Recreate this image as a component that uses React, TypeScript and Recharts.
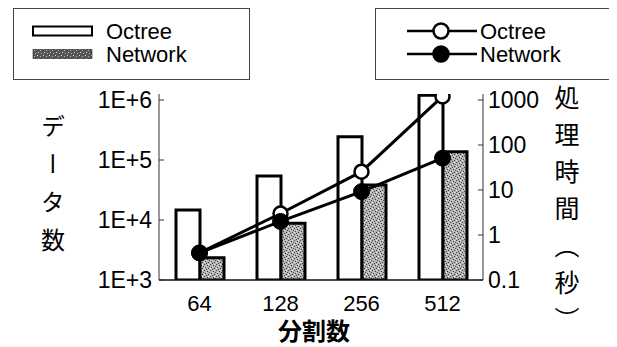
import React from 'react';
import { ComposedChart, Bar, Line, XAxis, YAxis, Legend } from 'recharts';

const categories = ['64', '128', '256', '512'];
const octreeCount = [14700, 54000, 245000, 1200000];
const networkCount = [2350, 8800, 38300, 137000];
const octreeTime = [0.4, 3.0, 25.5, 1200];
const networkTime = [0.4, 2.0, 9.2, 51];
const leftTicks = [1000, 10000, 100000, 1000000];
const leftTickLabels = ['1E+3', '1E+4', '1E+5', '1E+6'];
const rightTicks = [0.1, 1, 10, 100, 1000];
const rightTickLabels = ['0.1', '1', '10', '100', '1000'];
const barKeys = ['octreeCount', 'networkCount'];
const lineKeys = ['octreeTime', 'networkTime'];

const data = categories.map((c, i) => ({
  cat: c,
  octreeCount: octreeCount[i],
  networkCount: networkCount[i],
  octreeTime: octreeTime[i],
  networkTime: networkTime[i],
}));

const LATIN = "'Liberation Sans', Arial, Helvetica, sans-serif";
const CJK = "'Noto Sans CJK JP', sans-serif";

const Patterns = () => (
  <svg width={0} height={0} style={{ position: 'absolute' }}>
    <defs>
      <pattern id="stipple" width="6" height="6" patternUnits="userSpaceOnUse">
        <rect width="6" height="6" fill="#b4b4b4" />
        <rect x="0" y="0" width="1" height="1" fill="#444" />
        <rect x="3" y="1" width="1" height="1" fill="#333" />
        <rect x="1" y="3" width="1" height="1" fill="#444" />
        <rect x="4" y="4" width="1" height="1" fill="#333" />
        <rect x="5" y="2" width="1" height="1" fill="#555" />
        <rect x="2" y="5" width="1" height="1" fill="#444" />
        <rect x="4" y="0" width="1" height="1" fill="#eee" />
        <rect x="0" y="4" width="1" height="1" fill="#eee" />
        <rect x="2" y="2" width="1" height="1" fill="#ddd" />
      </pattern>
      <pattern id="stippleDark" width="6" height="6" patternUnits="userSpaceOnUse">
        <rect width="6" height="6" fill="#555" />
        <rect x="1" y="1" width="1" height="1" fill="#ddd" />
        <rect x="4" y="2" width="1" height="1" fill="#bbb" />
        <rect x="2" y="4" width="1" height="1" fill="#ddd" />
        <rect x="5" y="5" width="1" height="1" fill="#bbb" />
      </pattern>
    </defs>
  </svg>
);

const renderLegend = (props: any) => {
  const payload: any[] = props.payload || [];
  const bars = barKeys
    .map((k) => payload.find((p) => p.dataKey === k))
    .filter(Boolean) as any[];
  const lines = lineKeys
    .map((k) => payload.find((p) => p.dataKey === k))
    .filter(Boolean) as any[];
  const rows = [31, 54];
  return (
    <svg width={617} height={90}>
      <rect x={13.5} y={8.5} width={236} height={71} fill="none" stroke="#444" strokeWidth={1} />
      {bars.map((b, i) => (
        <g key={b.dataKey}>
          <rect
            x={33}
            y={rows[i] - 4.5}
            width={59}
            height={9}
            fill={b.dataKey === 'octreeCount' ? '#fff' : 'url(#stippleDark)'}
            stroke="#000"
            strokeWidth={b.dataKey === 'octreeCount' ? 2 : 0.5}
          />
          <text x={106} y={rows[i]} dominantBaseline="central" fontSize={22} fontFamily={LATIN} fill="#000">
            {b.value}
          </text>
        </g>
      ))}
      <rect x={375.5} y={8.5} width={236} height={71} fill="none" stroke="#444" strokeWidth={1} />
      {lines.map((l, i) => (
        <g key={l.dataKey}>
          <line x1={407} x2={477} y1={rows[i]} y2={rows[i]} stroke="#000" strokeWidth={2.5} />
          <circle
            cx={441}
            cy={rows[i]}
            r={7.5}
            fill={l.dataKey === 'octreeTime' ? '#fff' : '#000'}
            stroke="#000"
            strokeWidth={2.5}
          />
          <text x={480} y={rows[i]} dominantBaseline="central" fontSize={22} fontFamily={LATIN} fill="#000">
            {l.value}
          </text>
        </g>
      ))}
    </svg>
  );
};

const verticalStyle: any = { writingMode: 'vertical-rl' };

const leftTitle = (props: any) => {
  const vb = props.viewBox || { x: 0, y: 0 };
  return (
    <text
      x={vb.x + 33}
      y={vb.y + 20}
      style={verticalStyle}
      fontSize={24}
      letterSpacing={14}
      fontFamily={CJK}
      fill="#000"
      textAnchor="start"
    >
      データ数
    </text>
  );
};

const rightTitle = (props: any) => {
  const vb = props.viewBox || { x: 0, y: 0 };
  return (
    <text
      x={vb.x + 84}
      y={vb.y - 9}
      style={verticalStyle}
      fontSize={25}
      letterSpacing={12}
      fontFamily={CJK}
      fill="#000"
      textAnchor="start"
    >
      処理時間（秒）
    </text>
  );
};

const xTitle = (props: any) => {
  const vb = props.viewBox || { x: 0, y: 0, width: 0 };
  return (
    <text
      x={vb.x + vb.width / 2 - 7}
      y={vb.y + 49}
      textAnchor="middle"
      dominantBaseline="central"
      fontSize={24}
      fontWeight="bold"
      fontFamily={CJK}
      fill="#000"
    >
      分割数
    </text>
  );
};

export default function App() {
  return (
    <div style={{ marginLeft: -8, marginTop: -8, position: 'relative', width: 617, height: 347 }}>
      <Patterns />
      <ComposedChart
        width={617}
        height={347}
        data={data}
        margin={{ top: 94, right: 10, bottom: 10, left: 20 }}
        barGap={0}
      >
        <XAxis
          dataKey="cat"
          height={57}
          tickLine={false}
          tickMargin={9}
          interval={0}
          axisLine={{ stroke: '#111', strokeWidth: 1.5 }}
          tick={{ fill: '#000', fontSize: 22, fontFamily: LATIN }}
          label={{ content: xTitle }}
        />
        <YAxis
          yAxisId="left"
          orientation="left"
          width={139}
          scale="log"
          type="number"
          domain={[1000, 1258925]}
          allowDataOverflow
          ticks={leftTicks}
          interval={0}
          tickSize={-5}
          tickMargin={12}
          tickFormatter={(v: number) => leftTickLabels[leftTicks.indexOf(v)] ?? String(v)}
          axisLine={{ stroke: '#333', strokeWidth: 1 }}
          tickLine={{ stroke: '#333', strokeWidth: 1 }}
          tick={{ fill: '#000', fontSize: 23, fontFamily: LATIN }}
          label={{ content: leftTitle }}
        />
        <YAxis
          yAxisId="right"
          orientation="right"
          width={124}
          scale="log"
          type="number"
          domain={[0.1, 1359]}
          allowDataOverflow
          ticks={rightTicks}
          interval={0}
          tickSize={-5}
          tickMargin={10}
          tickFormatter={(v: number) => rightTickLabels[rightTicks.indexOf(v)] ?? String(v)}
          axisLine={{ stroke: '#333', strokeWidth: 1 }}
          tickLine={{ stroke: '#333', strokeWidth: 1 }}
          tick={{ fill: '#000', fontSize: 23, fontFamily: LATIN }}
          label={{ content: rightTitle }}
        />
        <Legend
          layout="horizontal"
          verticalAlign="middle"
          align="center"
          wrapperStyle={{ position: 'absolute', top: 0, left: 0, width: 617, height: 90 }}
          content={renderLegend}
        />
        <Bar
          yAxisId="left"
          dataKey="octreeCount"
          name="Octree"
          fill="#fff"
          stroke="#000"
          strokeWidth={3}
          barSize={24}
          isAnimationActive={false}
        />
        <Bar
          yAxisId="left"
          dataKey="networkCount"
          name="Network"
          fill="url(#stipple)"
          stroke="#000"
          strokeWidth={3}
          barSize={24}
          isAnimationActive={false}
        />
        <Line
          yAxisId="right"
          type="linear"
          dataKey="octreeTime"
          name="Octree"
          stroke="#000"
          strokeWidth={3}
          dot={{ r: 7, fill: '#fff', stroke: '#000', strokeWidth: 2.5 }}
          isAnimationActive={false}
        />
        <Line
          yAxisId="right"
          type="linear"
          dataKey="networkTime"
          name="Network"
          stroke="#000"
          strokeWidth={3}
          dot={{ r: 8, fill: '#000', stroke: '#000', strokeWidth: 1 }}
          isAnimationActive={false}
        />
      </ComposedChart>
    </div>
  );
}
